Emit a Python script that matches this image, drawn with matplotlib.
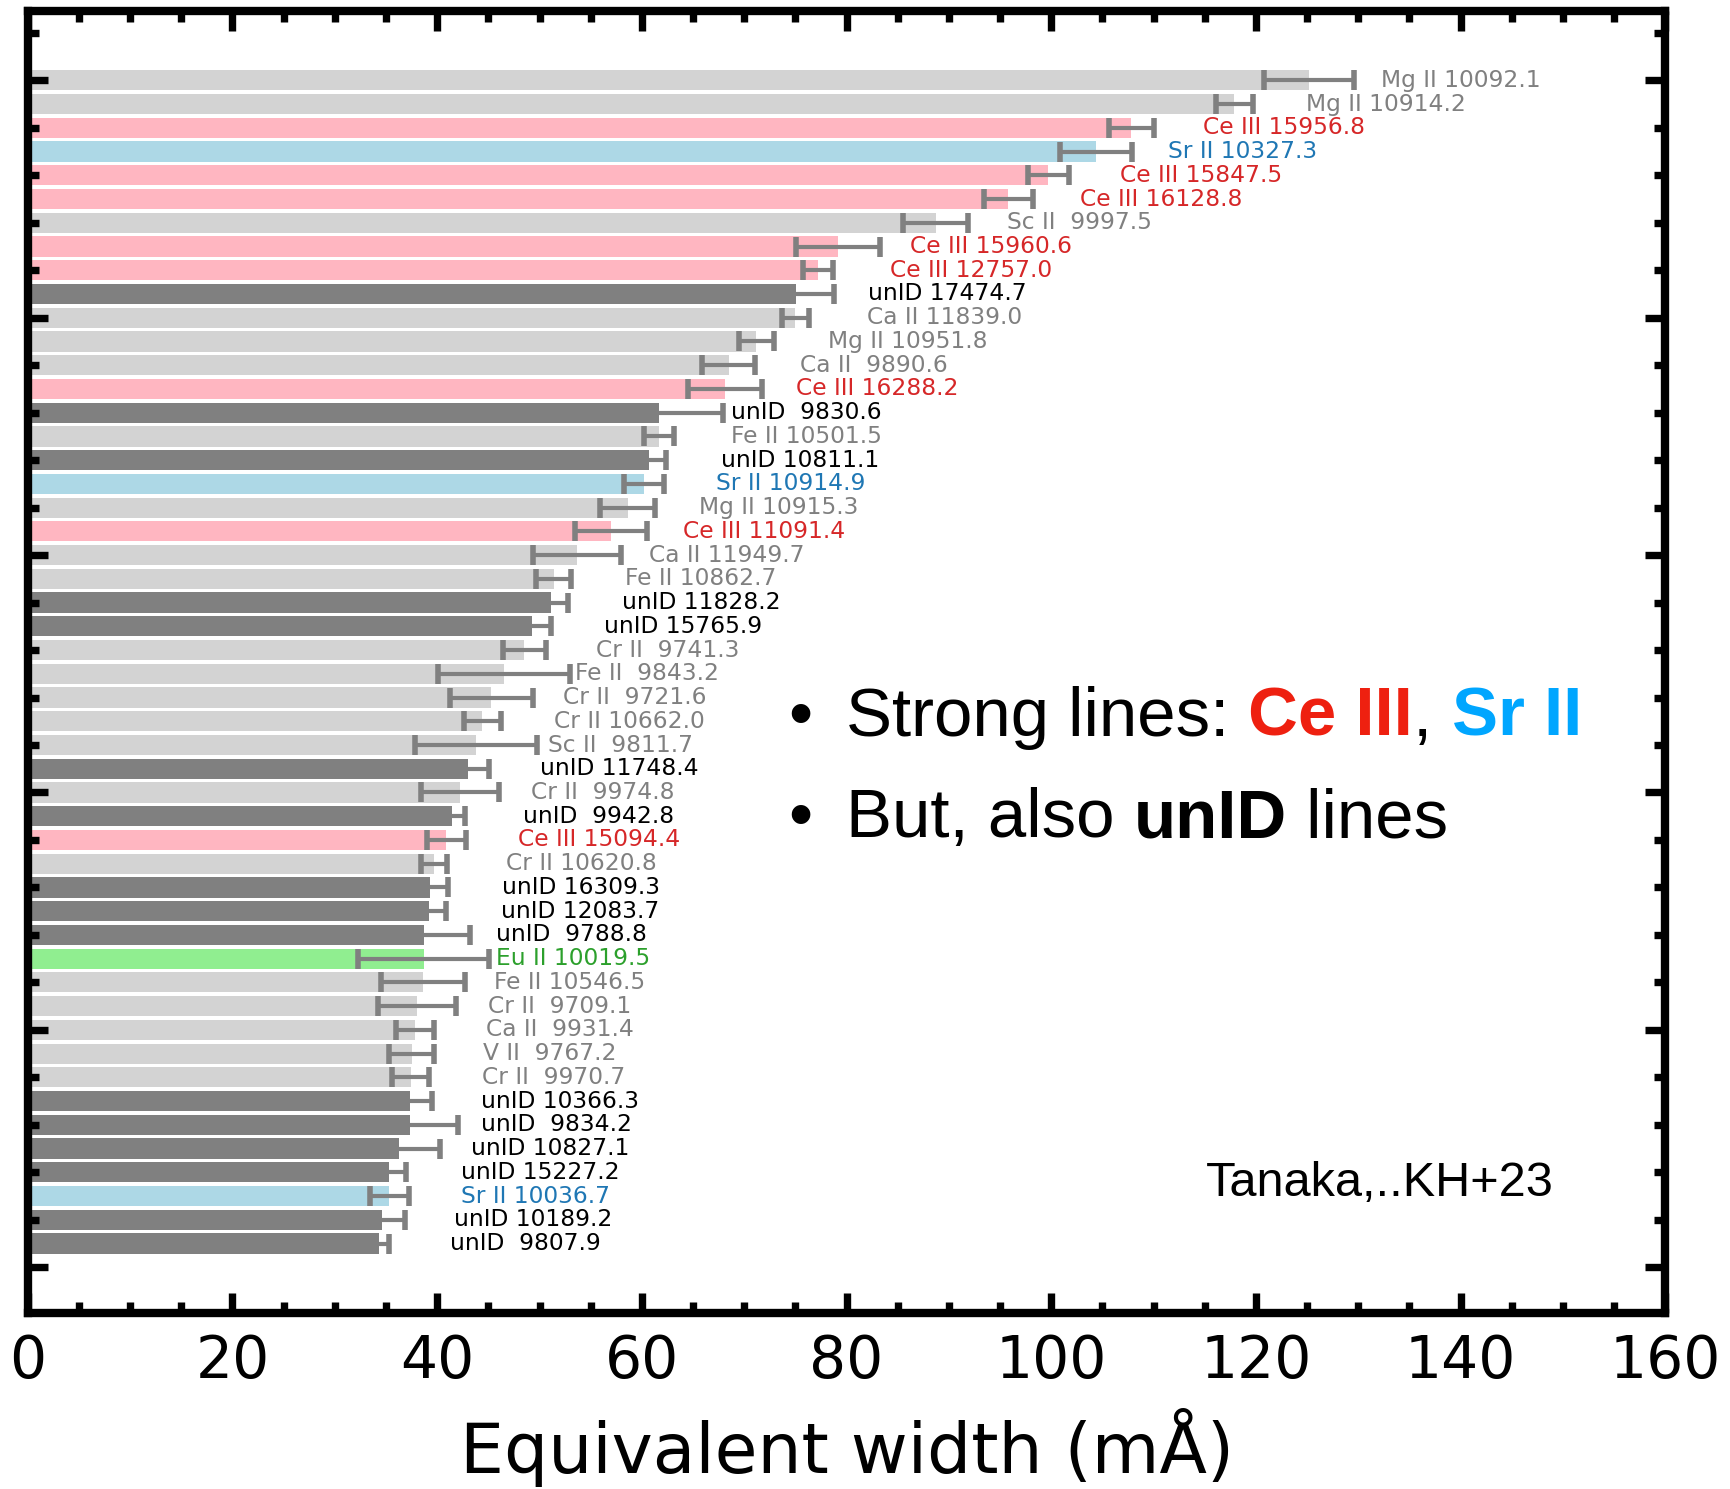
import matplotlib
matplotlib.use("Agg")
import matplotlib.pyplot as plt
from matplotlib.ticker import MultipleLocator

# line list, strongest first
species = ["Mg II", "Mg II", "Ce III", "Sr II", "Ce III", "Ce III", "Sc II", "Ce III", "Ce III", "unID",
           "Ca II", "Mg II", "Ca II", "Ce III", "unID", "Fe II", "unID", "Sr II", "Mg II", "Ce III",
           "Ca II", "Fe II", "unID", "unID", "Cr II", "Fe II", "Cr II", "Cr II", "Sc II", "unID",
           "Cr II", "unID", "Ce III", "Cr II", "unID", "unID", "unID", "Eu II", "Fe II", "Cr II",
           "Ca II", "V II", "Cr II", "unID", "unID", "unID", "unID", "Sr II", "unID", "unID"]
wavelengths = [10092.1, 10914.2, 15956.8, 10327.3, 15847.5, 16128.8, 9997.5, 15960.6, 12757.0, 17474.7,
               11839.0, 10951.8, 9890.6, 16288.2, 9830.6, 10501.5, 10811.1, 10914.9, 10915.3, 11091.4,
               11949.7, 10862.7, 11828.2, 15765.9, 9741.3, 9843.2, 9721.6, 10662.0, 9811.7, 11748.4,
               9974.8, 9942.8, 15094.4, 10620.8, 16309.3, 12083.7, 9788.8, 10019.5, 10546.5, 9709.1,
               9931.4, 9767.2, 9970.7, 10366.3, 9834.2, 10827.1, 15227.2, 10036.7, 10189.2, 9807.9]
ew = [125.2, 117.9, 107.8, 104.4, 99.7, 95.8, 88.7, 79.2, 77.2, 75.1,
      75.0, 71.2, 68.5, 68.1, 61.7, 61.7, 60.7, 60.2, 58.6, 57.0,
      53.7, 51.4, 51.1, 49.3, 48.5, 46.5, 45.3, 44.4, 43.8, 43.0,
      42.2, 41.4, 40.9, 39.7, 39.3, 39.2, 38.7, 38.7, 38.6, 38.0,
      37.8, 37.5, 37.4, 37.3, 37.3, 36.3, 35.3, 35.3, 34.6, 34.3]
ew_err = [4.4, 1.8, 2.2, 3.5, 2.0, 2.4, 3.2, 4.1, 1.5, 3.7,
          1.3, 1.7, 2.6, 3.6, 6.2, 1.45, 1.7, 1.95, 2.7, 3.5,
          4.3, 1.7, 1.7, 1.8, 2.1, 6.45, 4.05, 1.8, 6.0, 2.1,
          3.8, 1.3, 1.9, 1.3, 1.8, 1.7, 4.5, 6.4, 4.1, 3.8,
          1.85, 2.2, 1.8, 2.15, 4.7, 4.0, 1.7, 1.9, 2.25, 1.0]

bar_colors = {"Ce III": "lightpink", "Sr II": "lightblue", "Eu II": "lightgreen", "unID": "gray"}
text_colors = {"Ce III": "tab:red", "Sr II": "tab:blue", "Eu II": "tab:green", "unID": "black"}

fig = plt.figure(figsize=(17.3, 14.89), dpi=100)
ax = fig.add_axes([0.01607, 0.11847, 0.96260 - 0.01607, 0.99228 - 0.11847])

n = len(ew)
ypos = [n - i for i in range(n)]
colors = [bar_colors.get(s, "lightgray") for s in species]

ax.barh(ypos, ew, height=0.85, color=colors, zorder=1)
ax.errorbar(ew, ypos, xerr=ew_err, fmt="none", ecolor="gray", elinewidth=3,
            capsize=7.5, capthick=4, zorder=2)

for y, s, wl, w in zip(ypos, species, wavelengths, ew):
    ax.text(w + 7, y, f"{s} {wl:7.1f}", color=text_colors.get(s, "gray"),
            fontsize=16.8, ha="left", va="center", family="DejaVu Sans")

ax.set_xlim(0, 160)
ax.set_ylim(-1.91, 52.9)
ax.xaxis.set_major_locator(MultipleLocator(20))
ax.xaxis.set_minor_locator(MultipleLocator(5))
ax.yaxis.set_major_locator(MultipleLocator(10))
ax.yaxis.set_minor_locator(MultipleLocator(2))
ax.tick_params(which="both", direction="in", top=True, right=True, width=5.3)
ax.tick_params(which="major", length=14.5)
ax.tick_params(which="minor", length=8)
ax.tick_params(axis="x", which="major", labelsize=42, pad=15)
ax.tick_params(axis="y", labelleft=False)
for sp in ax.spines.values():
    sp.set_linewidth(6)

ax.set_xlabel("Equivalent width (mÅ)", fontsize=50, labelpad=13)

# summary notes, written piece by piece so each part keeps its own colour/weight
def rainbow(x, y, parts, size):
    txt = fig.text(x, y, parts[0][0], color=parts[0][1], fontweight=parts[0][2],
                   fontsize=size, family="Liberation Sans", va="baseline")
    for s, c, w in parts[1:]:
        txt = ax.annotate(s, xycoords=txt, xy=(1, 0), va="bottom", color=c, fontweight=w,
                          fontsize=size, family="Liberation Sans")

fig.text(788 / 1730, 1 - 735.8 / 1489, "•", fontsize=49.5, family="Liberation Sans", va="baseline")
rainbow(846 / 1730, 1 - 735.8 / 1489,
        [("Strong lines: ", "black", "normal"), ("Ce III", "#ee2010", "bold"),
         (", ", "black", "normal"), ("Sr II", "#00a6ff", "bold")], 49.7)
fig.text(788 / 1730, 1 - 837 / 1489, "•", fontsize=49.5, family="Liberation Sans", va="baseline")
rainbow(846 / 1730, 1 - 837 / 1489,
        [("But, also ", "black", "normal"), ("unID", "black", "bold"),
         (" lines", "black", "normal")], 49.7)
fig.text(1206 / 1730, 1 - 1196 / 1489, "Tanaka,..KH+23", fontsize=35,
         family="Liberation Sans", va="baseline")

fig.savefig("out.png", dpi=100)
